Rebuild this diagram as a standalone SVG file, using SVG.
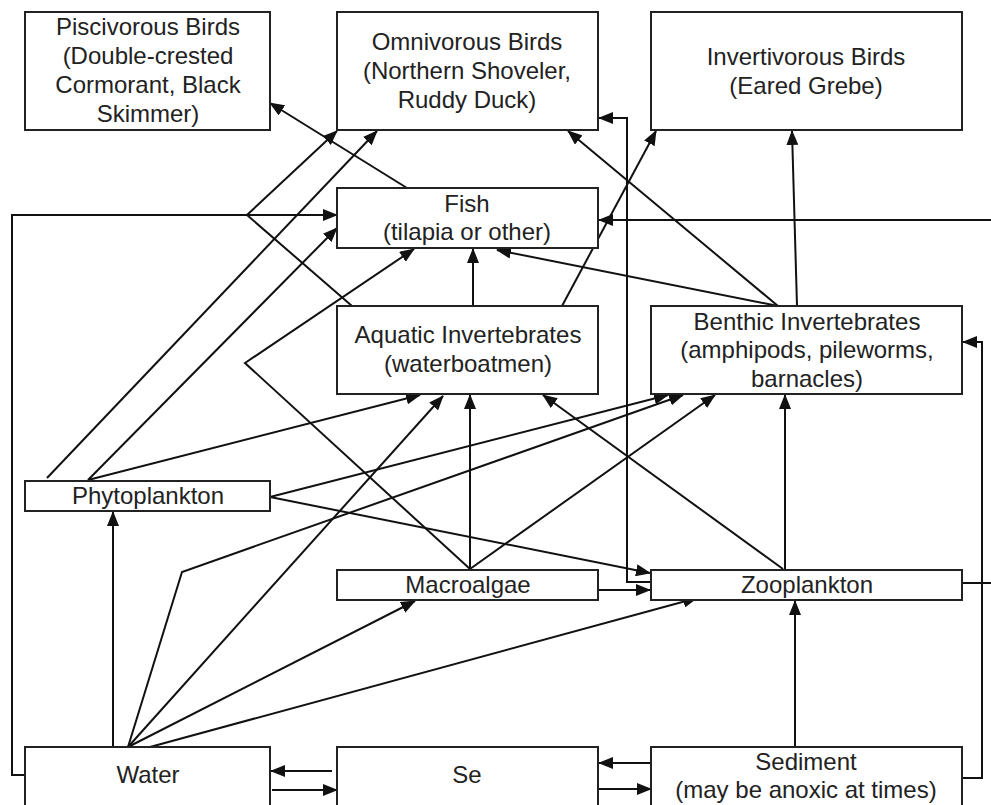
<svg xmlns="http://www.w3.org/2000/svg" width="991" height="805" viewBox="0 0 991 805">
<style>
.box{fill:#fff;stroke:#222;stroke-width:2}
.t{font-family:"Liberation Sans",Arial,sans-serif;font-size:24px;fill:#222;text-anchor:middle}
.c{fill:none;stroke:#111;stroke-width:2}
.a{marker-end:url(#ah)}
</style>
<defs>
<marker id="ah" viewBox="0 0 15 12" refX="14" refY="6" markerWidth="15" markerHeight="12" orient="auto" markerUnits="userSpaceOnUse">
<path d="M0,0 L15,6 L0,12 z" fill="#111"/>
</marker>
</defs>
<rect width="991" height="805" fill="#fff"/>
<g id="connectors">
<path class="c a" d="M407,188 L270,103"/>
<path class="c a" d="M25,775 H12 V215 H337"/>
<path class="c a" d="M352,306 L247,215 L337,131"/>
<path class="c a" d="M47,478 L377,131"/>
<path class="c a" d="M88,480 L337,228"/>
<path class="c a" d="M470,569 L245,363 L414,249"/>
<path class="c a" d="M88,480 L420,395"/>
<path class="c a" d="M270,497 L668,395"/>
<path class="c a" d="M270,497 L650,573"/>
<path class="c a" d="M128,747 L182,572 L683,395"/>
<path class="c a" d="M128,747 L443,396"/>
<path class="c a" d="M128,747 L415,601"/>
<path class="c a" d="M150,747 L697,598"/>
<path class="c a" d="M113,747 V512"/>
<path class="c a" d="M470,569 V395"/>
<path class="c a" d="M470,569 L715,395"/>
<path class="c a" d="M593,590 H650"/>
<path class="c a" d="M651,582 H627 V118 H599"/>
<path class="c a" d="M783,569 L543,395"/>
<path class="c a" d="M785,569 V395"/>
<path class="c a" d="M962,583 H996 V220 H599"/>
<path class="c a" d="M962,778 H982 V342 H963"/>
<path class="c a" d="M795,747 V601"/>
<path class="c a" d="M332,771 H271"/>
<path class="c a" d="M272,790 H337"/>
<path class="c a" d="M651,763 H599"/>
<path class="c a" d="M598,789 H651"/>
<path class="c a" d="M473,306 V249"/>
<path class="c a" d="M562,306 L656,131"/>
<path class="c a" d="M778,306 L497,250"/>
<path class="c a" d="M778,306 L568,131"/>
<path class="c a" d="M797,306 L792,131"/>
</g>
<g id="piscivorous"><rect class="box" x="25" y="12" width="245" height="118"/>
<text class="t" x="148" y="35">Piscivorous Birds</text><text class="t" x="148" y="64">(Double-crested</text><text class="t" x="148" y="93">Cormorant, Black</text><text class="t" x="148" y="122">Skimmer)</text></g>
<g id="omnivorous"><rect class="box" x="337" y="12" width="261" height="118"/>
<text class="t" x="467" y="50">Omnivorous Birds</text><text class="t" x="467" y="79">(Northern Shoveler,</text><text class="t" x="467" y="108">Ruddy Duck)</text></g>
<g id="invertivorous"><rect class="box" x="651" y="12" width="311" height="118"/>
<text class="t" x="806" y="65">Invertivorous Birds</text><text class="t" x="806" y="94">(Eared Grebe)</text></g>
<g id="fish"><rect class="box" x="337" y="188" width="261" height="60"/>
<text class="t" x="467" y="212">Fish</text><text class="t" x="467" y="240">(tilapia or other)</text></g>
<g id="aquatic"><rect class="box" x="337" y="306" width="261" height="88"/>
<text class="t" x="468" y="343">Aquatic Invertebrates</text><text class="t" x="468" y="372">(waterboatmen)</text></g>
<g id="benthic"><rect class="box" x="651" y="306" width="311" height="88"/>
<text class="t" x="807" y="330">Benthic Invertebrates</text><text class="t" x="807" y="358">(amphipods, pileworms,</text><text class="t" x="807" y="387">barnacles)</text></g>
<g id="phytoplankton"><rect class="box" x="25" y="481" width="245" height="30"/>
<text class="t" x="148" y="504">Phytoplankton</text></g>
<g id="macroalgae"><rect class="box" x="337" y="570" width="261" height="30"/>
<text class="t" x="468" y="593">Macroalgae</text></g>
<g id="zooplankton"><rect class="box" x="651" y="570" width="311" height="30"/>
<text class="t" x="807" y="593">Zooplankton</text></g>
<g id="water"><rect class="box" x="25" y="747" width="245" height="70"/>
<text class="t" x="148" y="783">Water</text></g>
<g id="se"><rect class="box" x="337" y="747" width="261" height="70"/>
<text class="t" x="467" y="783">Se</text></g>
<g id="sediment"><rect class="box" x="651" y="747" width="311" height="70"/>
<text class="t" x="806" y="770">Sediment</text><text class="t" x="806" y="798">(may be anoxic at times)</text></g>
</svg>
